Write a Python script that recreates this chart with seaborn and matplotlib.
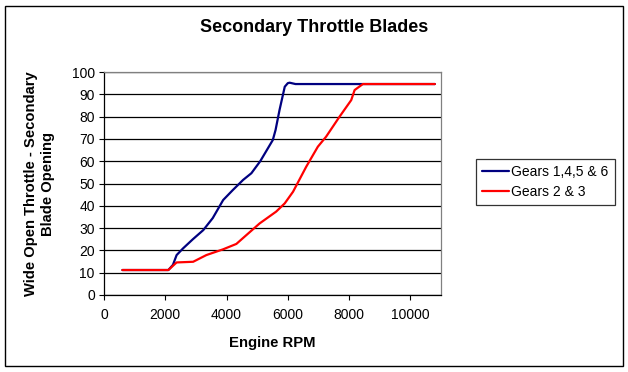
import pandas as pd
import matplotlib
matplotlib.use("Agg")
import matplotlib.pyplot as plt
import seaborn as sns
from matplotlib.patches import Rectangle

# data
rpm_blue = [600, 2100, 2250, 2370, 2580, 2900, 3240, 3550, 3890, 4200, 4540, 4810, 5100, 5510, 5600, 5730, 5900, 6000, 6060, 6250, 8400, 10800]
open_blue = [11.2, 11.2, 13.5, 17.9, 20.9, 25.0, 29.1, 34.5, 42.6, 47.0, 51.6, 54.6, 60.0, 69.5, 74.0, 83.0, 93.4, 95.0, 95.2, 94.6, 94.6, 94.6]

rpm_red = [600, 2100, 2370, 2910, 3340, 3890, 4320, 4650, 5080, 5620, 5900, 6170, 6600, 6980, 7250, 7690, 8070, 8180, 8450, 10800]
open_red = [11.2, 11.2, 14.6, 14.9, 17.9, 20.5, 22.9, 26.9, 32.1, 37.4, 41.1, 46.3, 57.5, 66.5, 71.0, 80.0, 87.4, 91.9, 94.6, 94.6]

series_names = ["Gears 1,4,5 & 6", "Gears 2 & 3"]

df = pd.concat([
    pd.DataFrame({"rpm": rpm_blue, "open": open_blue, "series": series_names[0]}),
    pd.DataFrame({"rpm": rpm_red, "open": open_red, "series": series_names[1]}),
])

sns.set_style("white")
plt.rcParams['font.family'] = ['Liberation Sans', 'DejaVu Sans']
plt.rcParams['text.color'] = 'black'
plt.rcParams['axes.labelcolor'] = 'black'
plt.rcParams['xtick.color'] = 'black'
plt.rcParams['ytick.color'] = 'black'

fig = plt.figure(figsize=(6.28, 3.72), dpi=100)
ax = fig.add_axes([104 / 628, 1 - 295 / 372, 337 / 628, 223 / 372])

sns.lineplot(data=df, x="rpm", y="open", hue="series", sort=False, estimator=None,
             palette={series_names[0]: "#000080", series_names[1]: "#ff0000"},
             linewidth=1.6, ax=ax)

ax.set_xlim(0, 11000)
ax.set_ylim(0, 100)
ax.set_xticks(range(0, 10001, 2000))
ax.set_yticks(range(0, 101, 10))
ax.tick_params(axis="both", labelsize=10, length=3.6, width=0.8, direction="out")
ax.tick_params(axis="x", pad=6)
ax.tick_params(axis="y", pad=3)
ax.tick_params(bottom=True, left=True)
ax.yaxis.grid(True, color="black", linewidth=0.9)
ax.set_axisbelow(True)

for side in ["left", "bottom"]:
    ax.spines[side].set_color("black")
    ax.spines[side].set_linewidth(0.9)
for side in ["top", "right"]:
    ax.spines[side].set_color("#808080")
    ax.spines[side].set_linewidth(0.9)

ax.set_xlabel("Engine RPM", fontsize=10.7, fontweight="bold", labelpad=10)
ax.set_ylabel("Wide Open Throttle - Secondary\nBlade Opening", fontsize=10.6, fontweight="bold",
              labelpad=12, linespacing=1.3)
fig.text(314 / 628, 1 - 28 / 372, "Secondary Throttle Blades", fontsize=13, fontweight="bold",
         ha="center", va="center")

leg = ax.legend(loc="upper left", bbox_to_anchor=(1.104, 0.61), borderaxespad=0,
                fontsize=10, frameon=True, fancybox=False, edgecolor="black",
                handlelength=1.9, handletextpad=0.2, borderpad=0.45, labelspacing=0.4)
leg.get_frame().set_linewidth(0.9)
for line in leg.get_lines():
    line.set_linewidth(1.6)

fig.patches.append(Rectangle((5 / 628, 1 - 366 / 372), 618 / 628, 360 / 372,
                             transform=fig.transFigure, fill=False,
                             edgecolor="black", linewidth=1))

fig.savefig("out.png", dpi=100)
